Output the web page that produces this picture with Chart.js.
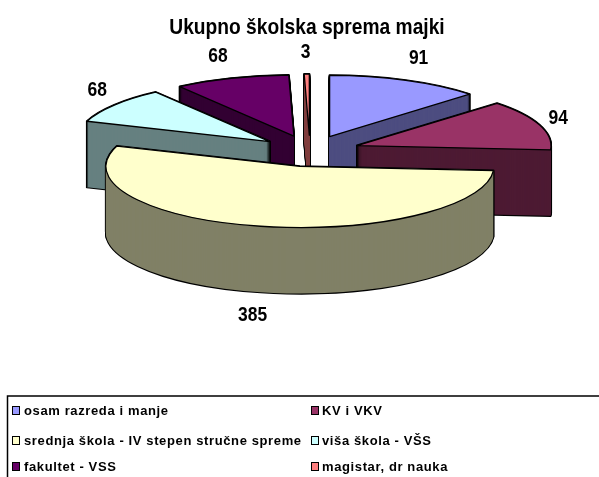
<!DOCTYPE html>
<html><head><meta charset="utf-8">
<style>html,body{margin:0;padding:0;background:#fff}#w{width:599px;height:477px;position:relative}canvas{display:block}</style>
<script src="https://cdn.jsdelivr.net/npm/chart.js@4"></script>
</head><body><div id="w"><canvas id="c" width="599" height="477"></canvas></div>
<script>
const categories = ['osam razreda i manje','KV i VKV','srednja škola - IV stepen stručne spreme','viša škola - VŠS','fakultet - VSS','magistar, dr nauka'];
const values = [91,94,385,68,68,3];
const topColors = ['#9999FF','#993366','#FFFFCC','#CCFFFF','#660066','#FF8080'];
const wallColors = ['#4D4D80','#4D1A33','#808066','#668080','#330033','#804040'];
const chartTitle = 'Ukupno školska sprema majki';

const CX = 310, CY = 151, SQUASH = 0.315, DEPTH = 66, EXPLODE = 50;
const LABEL_FONT = 'bold 21px "Liberation Sans",Arial,sans-serif';
const LEGEND_FONT = 'bold 13px "Liberation Sans",Arial,sans-serif';
const labelNudgeX = [5,0,-4,-1,-7,-1];
const labelNudgeY = [-2,0,-1,-2,-1,1];

function paint(arc, ctx, dy, fill, stroke, bw){
  const mid = (arc.startAngle + arc.endAngle)/2;
  const v = Object.create(arc);
  v.options = Object.assign({}, arc.options, {backgroundColor:fill, borderColor:stroke, borderWidth:bw, borderJoinStyle:'round', offset:0});
  ctx.save();
  ctx.translate(CX, CY + dy);
  ctx.scale(1, SQUASH);
  ctx.translate(-arc.x + Math.cos(mid)*EXPLODE, -arc.y + Math.sin(mid)*EXPLODE);
  const native = ctx.stroke;
  ctx.stroke = function(){ ctx.save(); ctx.setTransform(1,0,0,1,0,0); native.call(ctx); ctx.restore(); };
  v.draw(ctx);
  delete ctx.stroke;
  ctx.restore();
}

const pie3d = {
  id:'pie3d',
  afterLayout(chart){
    const tb = chart.titleBlock;
    if(tb && !tb._condensed){
      tb._condensed = true;
      const orig = tb.draw;
      tb.draw = function(){
        const ctx = this.ctx, tx = this.left + this.width/2;
        ctx.save(); ctx.translate(tx,0); ctx.scale(0.873,1); ctx.translate(-tx,0);
        orig.apply(this, arguments);
        ctx.restore();
      };
    }
  },
  beforeDatasetsDraw(chart){
    const ctx = chart.ctx, arcs = chart.getDatasetMeta(0).data;
    const order = arcs.map((a,i)=>i).sort((p,q)=>{
      const m=a=>Math.sin((a.startAngle+a.endAngle)/2);
      return m(arcs[p])-m(arcs[q]);
    });
    for(const i of order){
      const a = arcs[i];
      for(let d=DEPTH;d>=0;d-=1) paint(a,ctx,d,'#000','#000',2.2);
      for(let d=DEPTH;d>=0;d-=1) paint(a,ctx,d,wallColors[i],wallColors[i],0);
      paint(a,ctx,0,topColors[i],'#000',1.3);
    }
    return false;
  },
  afterDraw(chart){
    const ctx = chart.ctx, arcs = chart.getDatasetMeta(0).data;
    ctx.save();
    ctx.fillStyle='#000'; ctx.textAlign='center'; ctx.textBaseline='middle'; ctx.font=LABEL_FONT;
    arcs.forEach((a,i)=>{
      const mid=(a.startAngle+a.endAngle)/2, c=Math.cos(mid), s=Math.sin(mid), r=a.outerRadius+EXPLODE;
      const x=CX+c*(r+20)+labelNudgeX[i], y=CY+s*r*SQUASH+s*24+(s>0?DEPTH-1:0)+1.5+labelNudgeY[i];
      ctx.save(); ctx.translate(x,y); ctx.scale(0.83,1);
      ctx.fillText(String(values[i]),0,0);
      ctx.restore();
    });
    // legend
    ctx.strokeStyle='#000'; ctx.lineWidth=1.5;
    ctx.strokeRect(7.5,396,800,200);
    ctx.font=LEGEND_FONT; ctx.textAlign='left';
    if('letterSpacing' in ctx) ctx.letterSpacing='0.62px';
    const colX=[12,311], rowY=[411,441,467];
    categories.forEach((t,i)=>{
      const x=colX[i%2], y=rowY[Math.floor(i/2)];
      ctx.fillStyle=topColors[i]; ctx.fillRect(x,y-4,7,8);
      ctx.lineWidth=1; ctx.strokeRect(x+.5,y-4.5,7,8);
      ctx.fillStyle='#000'; ctx.fillText(t,x+12-(i%2),y+0.5);
    });
    ctx.restore();
  }
};

new Chart(document.getElementById('c'),{
  type:'pie',
  data:{labels:categories,datasets:[{data:values,backgroundColor:topColors,borderColor:'#000',borderWidth:1.3,radius:194}]},
  plugins:[pie3d],
  options:{
    responsive:false,animation:false,
    layout:{padding:{left:15,right:0,top:9,bottom:100}},
    plugins:{
      legend:{display:false},tooltip:{enabled:false},
      title:{display:true,text:chartTitle,fullSize:false,color:'#000',
        font:{family:'"Liberation Sans",Arial,sans-serif',size:22,weight:'bold'},padding:{top:6,bottom:6}}
    }
  }
});
</script></body></html>
